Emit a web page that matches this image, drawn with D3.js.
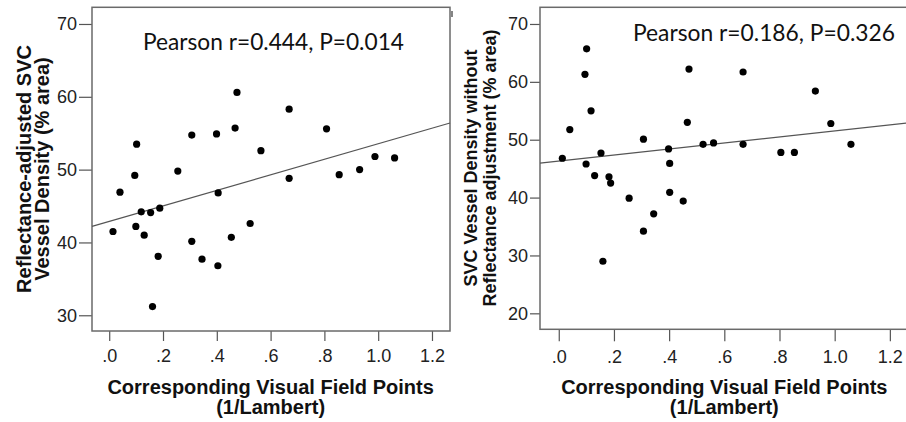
<!DOCTYPE html>
<html>
<head>
<meta charset="utf-8">
<script src="https://cdn.jsdelivr.net/npm/d3@7"></script>
<style>
  body { margin: 0; background: #fff; }
  svg { display: block; }
</style>
</head>
<body>
<div id="chart"></div>
<script>
// Two scatter plots: SVC vessel density vs visual field sensitivity

// shared x values (1/Lambert), same eyes in both panels
const leftX = [0.014, 0.040, 0.095, 0.099, 0.102, 0.119, 0.130, 0.154, 0.161, 0.182,
               0.188, 0.255, 0.307, 0.307, 0.345, 0.399, 0.404, 0.405, 0.454, 0.468,
               0.475, 0.524, 0.564, 0.669, 0.669, 0.808, 0.855, 0.931, 0.988, 1.061];
const leftY = [41.5, 46.9, 49.2, 42.2, 53.5, 44.2, 41.0, 44.1, 31.2, 38.1,
               44.7, 49.8, 54.75, 40.15, 37.7, 54.9, 36.8, 46.8, 40.7, 55.7,
               60.6, 42.6, 52.6, 58.3, 48.8, 55.6, 49.3, 50.0, 51.8, 51.6];

const rightX = [0.013, 0.040, 0.095, 0.099, 0.101, 0.117, 0.130, 0.153, 0.160, 0.182,
                0.188, 0.255, 0.307, 0.307, 0.344, 0.398, 0.402, 0.402, 0.451, 0.466,
                0.472, 0.523, 0.561, 0.668, 0.668, 0.805, 0.854, 0.930, 0.986, 1.059];
const rightY = [46.8, 51.75, 61.3, 45.8, 65.7, 55.0, 43.8, 47.7, 29.0, 43.6,
                42.5, 39.9, 50.1, 34.2, 37.2, 48.4, 45.9, 40.9, 39.4, 53.0,
                62.2, 49.2, 49.45, 61.7, 49.2, 47.8, 47.8, 58.4, 52.8, 49.2];

// fit line end points
const leftFit = [[-0.064, 42.2], [1.267, 56.4]];
const rightFit = [[-0.068, 45.94], [1.273, 52.93]];

const xTicks = [0, 0.2, 0.4, 0.6, 0.8, 1.0, 1.2];
const xTickLabels = [".0", ".2", ".4", ".6", ".8", "1.0", "1.2"];
const leftYTicks = [30, 40, 50, 60, 70];
const rightYTicks = [20, 30, 40, 50, 60, 70];

const leftStat = "Pearson r=0.444, P=0.014";
const rightStat = "Pearson r=0.186, P=0.326";
const xTitle = ["Corresponding Visual Field Points", "(1/Lambert)"];
const leftYTitle = ["Reflectance-adjusted SVC", "Vessel Density (% area)"];
const rightYTitle = ["SVC Vessel Density without", "Reflectance adjustment (% area)"];

const svg = d3.select("#chart").append("svg")
    .attr("width", 906)
    .attr("height", 422);

function drawPanel(p) {
    const x = d3.scaleLinear().domain(p.xDomain).range([p.left, p.right]);
    const y = d3.scaleLinear().domain(p.yDomain).range([p.bottom, p.top]);
    const g = svg.append("g");

    // y axis
    const yAxis = d3.axisLeft(y).tickValues(p.yTicks).tickSize(p.yTickLen).tickPadding(2);
    const ya = g.append("g")
        .attr("transform", `translate(${p.left},0)`)
        .call(yAxis);
    ya.select(".domain").remove();
    ya.selectAll("line").attr("stroke", "#555").attr("stroke-width", 1.2);
    ya.selectAll("text")
        .style("font-family", "'Liberation Sans', Arial, sans-serif")
        .style("font-size", "18px")
        .attr("fill", "#222");

    // x axis
    const xAxis = d3.axisBottom(x).tickValues(xTicks)
        .tickFormat((d, i) => xTickLabels[i])
        .tickSize(p.xTickLen).tickPadding(p.xTickPad);
    const xa = g.append("g")
        .attr("transform", `translate(0,${p.bottom})`)
        .call(xAxis);
    xa.select(".domain").remove();
    xa.selectAll("line").attr("stroke", "#555").attr("stroke-width", 1.2);
    xa.selectAll("text")
        .style("font-family", "'Liberation Sans', Arial, sans-serif")
        .style("font-size", "18px")
        .attr("fill", "#222");

    // plot frame
    g.append("rect")
        .attr("x", p.left)
        .attr("y", p.top)
        .attr("width", p.right - p.left)
        .attr("height", p.bottom - p.top)
        .attr("fill", "none")
        .attr("stroke", "#6a6a6a")
        .attr("stroke-width", 1.5);

    // fit line
    g.append("line")
        .attr("x1", x(p.fit[0][0])).attr("y1", y(p.fit[0][1]))
        .attr("x2", x(p.fit[1][0])).attr("y2", y(p.fit[1][1]))
        .attr("stroke", "#555")
        .attr("stroke-width", 1.2);

    // points
    g.selectAll("circle")
        .data(p.xs.map((v, i) => [v, p.ys[i]]))
        .enter()
        .append("circle")
        .attr("cx", d => x(d[0]))
        .attr("cy", d => y(d[1]))
        .attr("r", 3.6)
        .attr("fill", "#000");

    // Pearson annotation
    g.append("text")
        .attr("x", p.statX)
        .attr("y", p.statY)
        .attr("textLength", p.statW)
        .attr("lengthAdjust", "spacingAndGlyphs")
        .style("font-family", "Lato, 'Open Sans', sans-serif")
        .style("font-size", "23px")
        .attr("fill", "#111")
        .text(p.stat);

    // x title
    const cx = (x(0) + x(1.2)) / 2;
    xTitle.forEach((t, i) => {
        g.append("text")
            .attr("x", cx)
            .attr("y", p.xTitleY + i * 20)
            .attr("text-anchor", "middle")
            .style("font-family", "'Liberation Sans', Arial, sans-serif")
            .style("font-size", "20px")
            .style("font-weight", "bold")
            .attr("fill", "#111")
            .text(t);
    });

    // y title
    p.yTitle.forEach((t, i) => {
        g.append("text")
            .attr("transform", `translate(${p.yTitleX + i * p.yTitleGap},${p.yTitleMid}) rotate(-90)`)
            .attr("text-anchor", "middle")
            .style("font-family", "'Liberation Sans', Arial, sans-serif")
            .style("font-size", p.yTitleSize + "px")
            .style("font-weight", "bold")
            .attr("fill", "#111")
            .text(t);
    });
}

drawPanel({
    xs: leftX, ys: leftY, fit: leftFit,
    xDomain: [-0.064, 1.267], yDomain: [27.84, 72.29],
    left: 92, right: 450, top: 7.3, bottom: 331,
    yTicks: leftYTicks, yTickLen: 13, xTickLen: 10, xTickPad: 8,
    stat: leftStat, statX: 143, statY: 49.5, statW: 261,
    xTitleY: 394, yTitle: leftYTitle, yTitleX: 31, yTitleGap: 18, yTitleMid: 169, yTitleSize: 20
});

drawPanel({
    xs: rightX, ys: rightY, fit: rightFit,
    xDomain: [-0.068, 1.273], yDomain: [17.24, 72.88],
    left: 540, right: 910, top: 7.3, bottom: 329.3,
    yTicks: rightYTicks, yTickLen: 10, xTickLen: 12, xTickPad: 9,
    stat: rightStat, statX: 633, statY: 41, statW: 262,
    xTitleY: 394, yTitle: rightYTitle, yTitleX: 477, yTitleGap: 19, yTitleMid: 168, yTitleSize: 18
});

// small mark at the top right of the left frame
svg.append("line")
    .attr("x1", 452).attr("y1", 11)
    .attr("x2", 452).attr("y2", 17)
    .attr("stroke", "#333")
    .attr("stroke-width", 1.2);
</script>
</body>
</html>
